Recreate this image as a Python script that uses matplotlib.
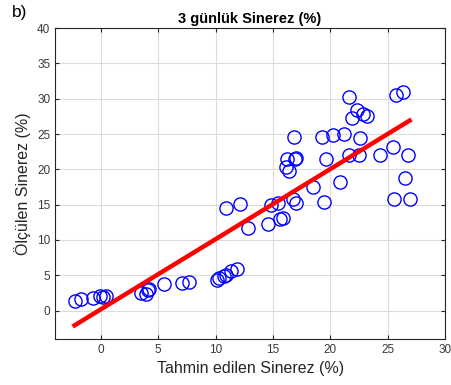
import numpy as np
import matplotlib
matplotlib.use("Agg")
import matplotlib.pyplot as plt

plt.rcParams["font.family"] = ["Liberation Sans", "DejaVu Sans"]

# tahmin edilen (x) / olculen (y) sinerez
tahmin = [-2.3, -1.7, -0.7, -0.1, 0.4, 0.2,
          3.5, 3.9, 4.2, 4.1, 5.5, 7.1, 7.7,
          10.1, 10.3, 10.7, 10.9, 11.3, 11.9,
          10.9, 12.1, 12.8, 14.55, 14.8, 15.4, 15.6, 15.9, 16.7, 17.0,
          16.1, 16.4, 16.2, 17.0, 16.9, 16.8, 18.5, 19.4, 19.6, 19.3,
          20.2, 21.2, 20.8, 21.65, 22.5, 21.65, 22.3, 21.9, 22.8, 23.2,
          22.6, 24.35, 25.45, 25.5, 26.9, 26.5, 26.8, 25.7, 26.3]
olculen = [1.3, 1.7, 1.8, 2.0, 2.0, 1.9,
           2.5, 2.3, 3.1, 2.9, 3.8, 3.9, 4.0,
           4.3, 4.6, 4.9, 5.1, 5.6, 5.9,
           14.5, 15.1, 11.7, 12.3, 15.0, 15.3, 13.0, 13.1, 15.8, 15.3,
           20.3, 19.7, 21.5, 21.6, 21.5, 24.6, 17.5, 15.4, 21.5, 24.6,
           24.9, 25.0, 18.2, 22.0, 22.0, 30.3, 28.4, 27.3, 27.8, 27.6,
           24.5, 22.0, 23.1, 15.8, 15.8, 18.8, 22.0, 30.5, 30.9]

fit_x = [-2.3, 26.9]
fit_y = [-2.1, 26.9]

x_ticks = [0, 5, 10, 15, 20, 25, 30]
y_ticks = [0, 5, 10, 15, 20, 25, 30, 35, 40]

fig = plt.figure(figsize=(4.51, 3.85), dpi=100)
ax = fig.add_axes([0.122, 0.12, 0.865, 0.807])

ax.plot(tahmin, olculen, "o", markersize=9.5, markerfacecolor="none",
        markeredgecolor="#0000ff", markeredgewidth=1.0, zorder=3)
ax.plot(fit_x, fit_y, "-", color="red", linewidth=3.2, zorder=4)

ax.set_xlim(-4, 30)
ax.set_ylim(-4, 40)
ax.set_xticks(x_ticks)
ax.set_yticks(y_ticks)
ax.grid(True, color="#dcdcdc", linewidth=0.8)
ax.set_axisbelow(True)
ax.tick_params(direction="in", top=True, right=True, length=3,
               labelsize=8.5, labelcolor="#3a3a3a", color="#262626")
for s in ax.spines.values():
    s.set_color("#262626")
    s.set_linewidth(0.8)

ax.set_title("3 günlük Sinerez (%)", fontsize=10.5, fontweight="bold", pad=4)
ax.set_xlabel("Tahmin edilen Sinerez (%)", fontsize=11.5, color="#262626")
ax.set_ylabel("Ölçülen Sinerez (%)", fontsize=11.5, color="#262626", labelpad=4)
fig.text(0.027, 0.968, "b)", fontsize=12.5, va="center", ha="left")

fig.savefig("out.png", dpi=100)
